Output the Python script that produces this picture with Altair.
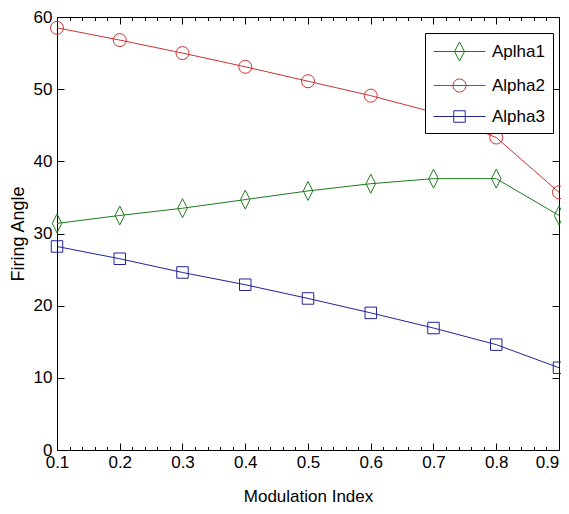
import altair as alt
import pandas as pd

# ---- data ----
mod_index = [0.1, 0.2, 0.3, 0.4, 0.5, 0.6, 0.7, 0.8, 0.9]
aplha1 = [31.4, 32.5, 33.5, 34.7, 35.9, 36.9, 37.6, 37.6, 32.5]
alpha2 = [58.5, 56.8, 55.0, 53.1, 51.1, 49.1, 46.8, 43.3, 35.7]
alpha3 = [28.2, 26.5, 24.6, 22.9, 21.0, 19.0, 16.9, 14.6, 11.4]
series_names = ["Aplha1", "Alpha2", "Alpha3"]
series_colors = ["#1f7a1f", "#cc3333", "#22229a"]
x_ticks = [0.1, 0.12, 0.14, 0.16, 0.18, 0.2, 0.22, 0.24, 0.26, 0.28, 0.3, 0.32, 0.34,
           0.36, 0.38, 0.4, 0.42, 0.44, 0.46, 0.48, 0.5, 0.52, 0.54, 0.56, 0.58, 0.6,
           0.62, 0.64, 0.66, 0.68, 0.7, 0.72, 0.74, 0.76, 0.78, 0.8, 0.82, 0.84, 0.86,
           0.88, 0.9]
y_ticks = [0, 10, 20, 30, 40, 50, 60]

rows = []
for name, vals in zip(series_names, [aplha1, alpha2, alpha3]):
    for m, v in zip(mod_index, vals):
        rows.append({"m": m, "v": v, "series": name})
df = pd.DataFrame(rows)

W, H = 502, 433
FONT = "Liberation Sans, Arial, Helvetica, sans-serif"
IS_MAJOR = "abs(datum.value*10 - round(datum.value*10)) < 0.01"

# marker shapes (tall diamond, circle, square) and legend symbols (line + marker)
diamond_path = "M0,-1L0.5,0L0,1L-0.5,0Z"
legend_paths = [
    "M-2.6,0L2.6,0M0,-0.95L0.5,0L0,0.95L-0.5,0Z",
    "M-2.6,0L2.6,0M0.65,0C0.65,0.359,0.359,0.65,0,0.65C-0.359,0.65,-0.65,0.359,-0.65,0"
    "C-0.65,-0.359,-0.359,-0.65,0,-0.65C0.359,-0.65,0.65,-0.359,0.65,0Z",
    "M-2.6,0L2.6,0M-0.575,-0.575L0.575,-0.575L0.575,0.575L-0.575,0.575Z",
]
marker_shapes = [diamond_path, "circle", "square"]
marker_sizes = [361, 169, 132]


def xscale():
    return alt.Scale(domain=[0.1, 0.9], nice=False, zero=False)


def yscale():
    return alt.Scale(domain=[0, 60], nice=False)


x_tick_size = alt.ExprRef(f"({IS_MAJOR}) ? -7 : -3.5")
y_tick_size = alt.ExprRef("-7")

base = alt.Chart(df)


def main_x_axis():
    return alt.Axis(
        orient="bottom", values=x_ticks,
        labelExpr=f"({IS_MAJOR}) ? format(datum.value, '.1f') : ''",
        labelOffset={"condition": {"test": "datum.value > 0.89", "value": -12}, "value": 0},
        ticks=True, tickSize=x_tick_size, tickColor="black", tickWidth=1,
        domain=False, grid=False, labelPadding=11, labelFont=FONT, labelFontSize=17,
        labelColor="black", title="Modulation Index", titleFont=FONT,
        titleFontSize=17, titleFontWeight="normal", titleColor="black",
        titlePadding=15, labelFlush=False, labelOverlap=False)


def main_y_axis():
    return alt.Axis(
        orient="left", values=y_ticks, ticks=True, tickSize=y_tick_size,
        tickColor="black", tickWidth=1, domain=False,
        grid=False, labelPadding=12, labelFont=FONT, labelFontSize=17,
        labelColor="black", title="Firing Angle",
        titleFont=FONT, titleFontSize=18,
        titleFontWeight="normal", titleColor="black", titlePadding=6,
        labelFlush=False)


X = lambda: alt.X("m:Q", scale=xscale(), axis=main_x_axis())
Y = lambda: alt.Y("v:Q", scale=yscale(), axis=main_y_axis())

# legend (drawn from the scales only; its own marks are filtered away)
legend_layer = (
    base.transform_filter("datum.m < 0")
    .mark_point(filled=False, strokeWidth=1, size=400)
    .encode(
        x=X(), y=Y(),
        color=alt.Color("series:N",
                        scale=alt.Scale(domain=series_names, range=series_colors),
                        legend=alt.Legend(title=None)),
        shape=alt.Shape("series:N",
                        scale=alt.Scale(domain=series_names, range=legend_paths),
                        legend=alt.Legend(title=None)),
    )
)

layers = [legend_layer]
for name, col, shp, sz in zip(series_names, series_colors, marker_shapes, marker_sizes):
    sub = base.transform_filter(alt.datum.series == name)
    layers.append(sub.mark_line(strokeWidth=1, color=col).encode(x=X(), y=Y()))
    layers.append(
        sub.mark_point(shape=shp, size=sz, filled=False, strokeWidth=1, color=col,
                       opacity=1).encode(x=X(), y=Y())
    )

main = alt.layer(*layers)

# inward ticks on the top and right edges of the box
frame = base.mark_point(opacity=0).encode(
    x=alt.X("m:Q", scale=xscale(), axis=alt.Axis(
        orient="top", values=x_ticks, tickSize=x_tick_size, ticks=True,
        labels=False, domain=False, grid=False, title=None,
        tickColor="black", tickWidth=1)),
    y=alt.Y("v:Q", scale=yscale(), axis=alt.Axis(
        orient="right", values=y_ticks, tickSize=y_tick_size, ticks=True,
        labels=False, domain=False, grid=False, title=None,
        tickColor="black", tickWidth=1)),
)

chart = (
    alt.layer(main, frame)
    .resolve_scale(x="independent", y="independent")
    .properties(
        width=W, height=H,
        autosize=alt.AutoSizeParams(type="none"),
        padding={"left": 49, "top": 9, "right": 2, "bottom": 56},
        background="white",
    )
    .configure_view(stroke="black", strokeWidth=1)
    .configure_legend(
        orient="none", legendX=368, legendY=16, strokeColor="black",
        fillColor="white", padding=8, symbolSize=400, symbolStrokeWidth=1,
        symbolOffset=16, labelOffset=22, labelFont=FONT, labelFontSize=17,
        labelColor="black", rowPadding=12, symbolOpacity=1, cornerRadius=0,
    )
)

chart.save("out.html", embed_options={"renderer": "svg", "actions": False})
